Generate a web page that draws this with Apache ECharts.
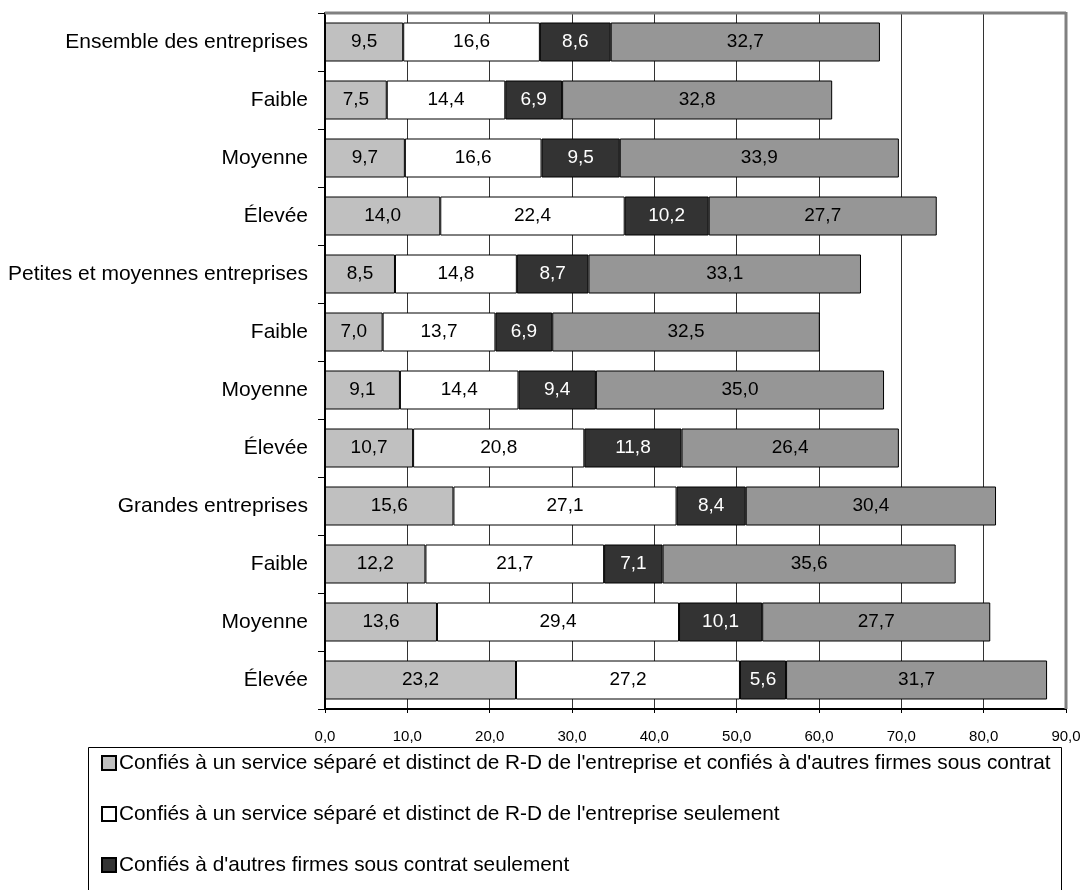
<!DOCTYPE html>
<html>
<head>
<meta charset="utf-8">
<script src="https://cdn.jsdelivr.net/npm/echarts@6/dist/echarts.min.js"></script>
<style>
  html, body { margin: 0; padding: 0; background: #fff; }
  #chart { width: 1084px; height: 890px; }
</style>
</head>
<body>
<div id="chart"></div>
<script>
// Catégories (de haut en bas)
const categories = [
  'Ensemble des entreprises', 'Faible', 'Moyenne', 'Élevée',
  'Petites et moyennes entreprises', 'Faible', 'Moyenne', 'Élevée',
  'Grandes entreprises', 'Faible', 'Moyenne', 'Élevée'
];

// Noms des séries
const seriesNames = [
  "Confiés à un service séparé et distinct de R-D de l'entreprise et confiés à d'autres firmes sous contrat",
  "Confiés à un service séparé et distinct de R-D de l'entreprise seulement",
  "Confiés à d'autres firmes sous contrat seulement",
  "Autres"
];

// Valeurs (%)
const serviceEtContrat = [9.5, 7.5, 9.7, 14.0, 8.5, 7.0, 9.1, 10.7, 15.6, 12.2, 13.6, 23.2];
const serviceSeulement = [16.6, 14.4, 16.6, 22.4, 14.8, 13.7, 14.4, 20.8, 27.1, 21.7, 29.4, 27.2];
const contratSeulement = [8.6, 6.9, 9.5, 10.2, 8.7, 6.9, 9.4, 11.8, 8.4, 7.1, 10.1, 5.6];
const autres = [32.7, 32.8, 33.9, 27.7, 33.1, 32.5, 35.0, 26.4, 30.4, 35.6, 27.7, 31.7];

// Graduations de l'axe des valeurs
const axisMin = 0, axisMax = 90, axisStep = 10;

const fontFamily = '"Liberation Sans", Arial, sans-serif';
const fmt = v => v.toFixed(1).replace('.', ',');

const colors = ['#C0C0C0', '#FFFFFF', '#333333', '#969696'];
const labelColors = ['#000', '#000', '#fff', '#000'];
const values = [serviceEtContrat, serviceSeulement, contratSeulement, autres];

const chart = echarts.init(document.getElementById('chart'), null, { renderer: 'canvas' });

const series = values.map((data, i) => ({
  name: seriesNames[i],
  type: 'bar',
  stack: 'total',
  barWidth: 39,
  data: data,
  itemStyle: { color: colors[i], borderColor: '#000', borderWidth: 1 },
  label: {
    show: true,
    position: 'inside',
    formatter: p => fmt(p.value),
    color: labelColors[i],
    fontSize: 19,
    fontFamily: fontFamily
  },
  emphasis: { disabled: true },
  animation: false
}));

chart.setOption({
  animation: false,
  textStyle: { fontFamily: fontFamily },
  grid: { left: 325, right: 18, top: 13, bottom: 181, containLabel: false,
          show: false },
  xAxis: {
    type: 'value',
    min: axisMin, max: axisMax, interval: axisStep,
    axisLine: { show: true, lineStyle: { color: '#000', width: 2 } },
    axisTick: { show: true, inside: false, length: 4, lineStyle: { color: '#000', width: 1 } },
    axisLabel: { formatter: fmt, fontSize: 15, color: '#000', margin: 20 },
    splitLine: { show: true, lineStyle: { color: '#333', width: 1 } }
  },
  yAxis: {
    type: 'category',
    inverse: true,
    data: categories,
    axisLine: { show: true, lineStyle: { color: '#000', width: 2 } },
    axisTick: { show: true, length: 7, lineStyle: { color: '#000' } },
    axisLabel: { fontSize: 21, color: '#000', margin: 17 },
    splitLine: { show: false }
  },
  legend: {
    orient: 'vertical',
    left: 96,
    top: 747,
    itemGap: 29,
    itemWidth: 14,
    itemHeight: 14,
    icon: 'rect',
    data: seriesNames.slice(0, 3),
    textStyle: { fontSize: 20.8, lineHeight: 22, color: '#000', padding: [0, 0, 0, -2] },
    selectedMode: false
  },
  graphic: [
    // cadre supérieur et droit de la zone de tracé
    { type: 'line', silent: true, z: 10,
      shape: { x1: 325, y1: 13, x2: 1066, y2: 13 },
      style: { stroke: '#808080', lineWidth: 3 } },
    { type: 'line', silent: true, z: 10,
      shape: { x1: 1066, y1: 12, x2: 1066, y2: 709 },
      style: { stroke: '#808080', lineWidth: 3 } },
    // cadre de la légende
    { type: 'rect', silent: true,
      shape: { x: 88.5, y: 747.5, width: 973, height: 200 },
      style: { fill: 'none', stroke: '#000', lineWidth: 1 } }
  ],
  series: series
});
</script>
</body>
</html>
